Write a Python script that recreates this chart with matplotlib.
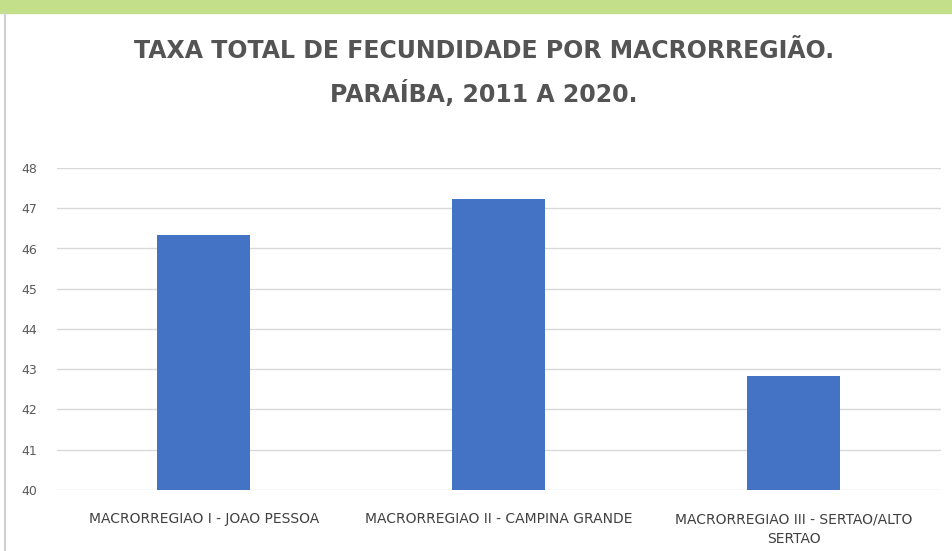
import matplotlib.pyplot as plt
import numpy as np

# dados
regioes = ['MACRORREGIAO I - JOAO PESSOA',
           'MACRORREGIAO II - CAMPINA GRANDE',
           'MACRORREGIAO III - SERTAO/ALTO\nSERTAO']
taxas = [46.34, 47.23, 42.83]
yticks = [40, 41, 42, 43, 44, 45, 46, 47, 48]

fig = plt.figure(figsize=(9.52, 5.51), dpi=100)
fig.patch.set_facecolor('white')

# faixa verde no topo e borda cinza a esquerda
fig.patches.append(plt.Rectangle((0, 1 - 13/551), 1, 13/551, transform=fig.transFigure,
                                 color='#c4df89', zorder=0))
fig.lines.append(plt.Line2D([5/952, 5/952], [0, 1 - 13/551], transform=fig.transFigure,
                            color='#d0d0d0', lw=1.5))

ax = fig.add_axes([56.5/952, 1 - 490/551, (941 - 56.5)/952, (490 - 168)/551])
x = np.arange(len(regioes))
ax.bar(x, taxas, width=0.315, color='#4472c4', zorder=3)
ax.set_ylim(40, 48)
ax.set_xlim(-0.5, 2.5)
ax.set_yticks(yticks)
ax.yaxis.grid(True, color='#d9d9d9', lw=1, zorder=0)
for s in ax.spines.values():
    s.set_visible(False)
ax.tick_params(axis='both', length=0, colors='#595959')
ax.set_yticklabels([str(v) for v in yticks], fontsize=9, color='#595959')
ax.tick_params(axis='y', pad=14)
ax.set_xticks(x)
ax.set_xticklabels(regioes, fontsize=10, color='#404040', linespacing=1.5)
ax.tick_params(axis='x', pad=16)

fig.text(484/952, 1 - 51/551, 'TAXA TOTAL DE FECUNDIDADE POR MACRORREGIÃO.',
         ha='center', va='center', fontsize=17, fontweight='bold', color='#545454')
fig.text(484/952, 1 - 94/551, 'PARAÍBA, 2011 A 2020.',
         ha='center', va='center', fontsize=17, fontweight='bold', color='#545454')

fig.savefig('out.png', dpi=100)
